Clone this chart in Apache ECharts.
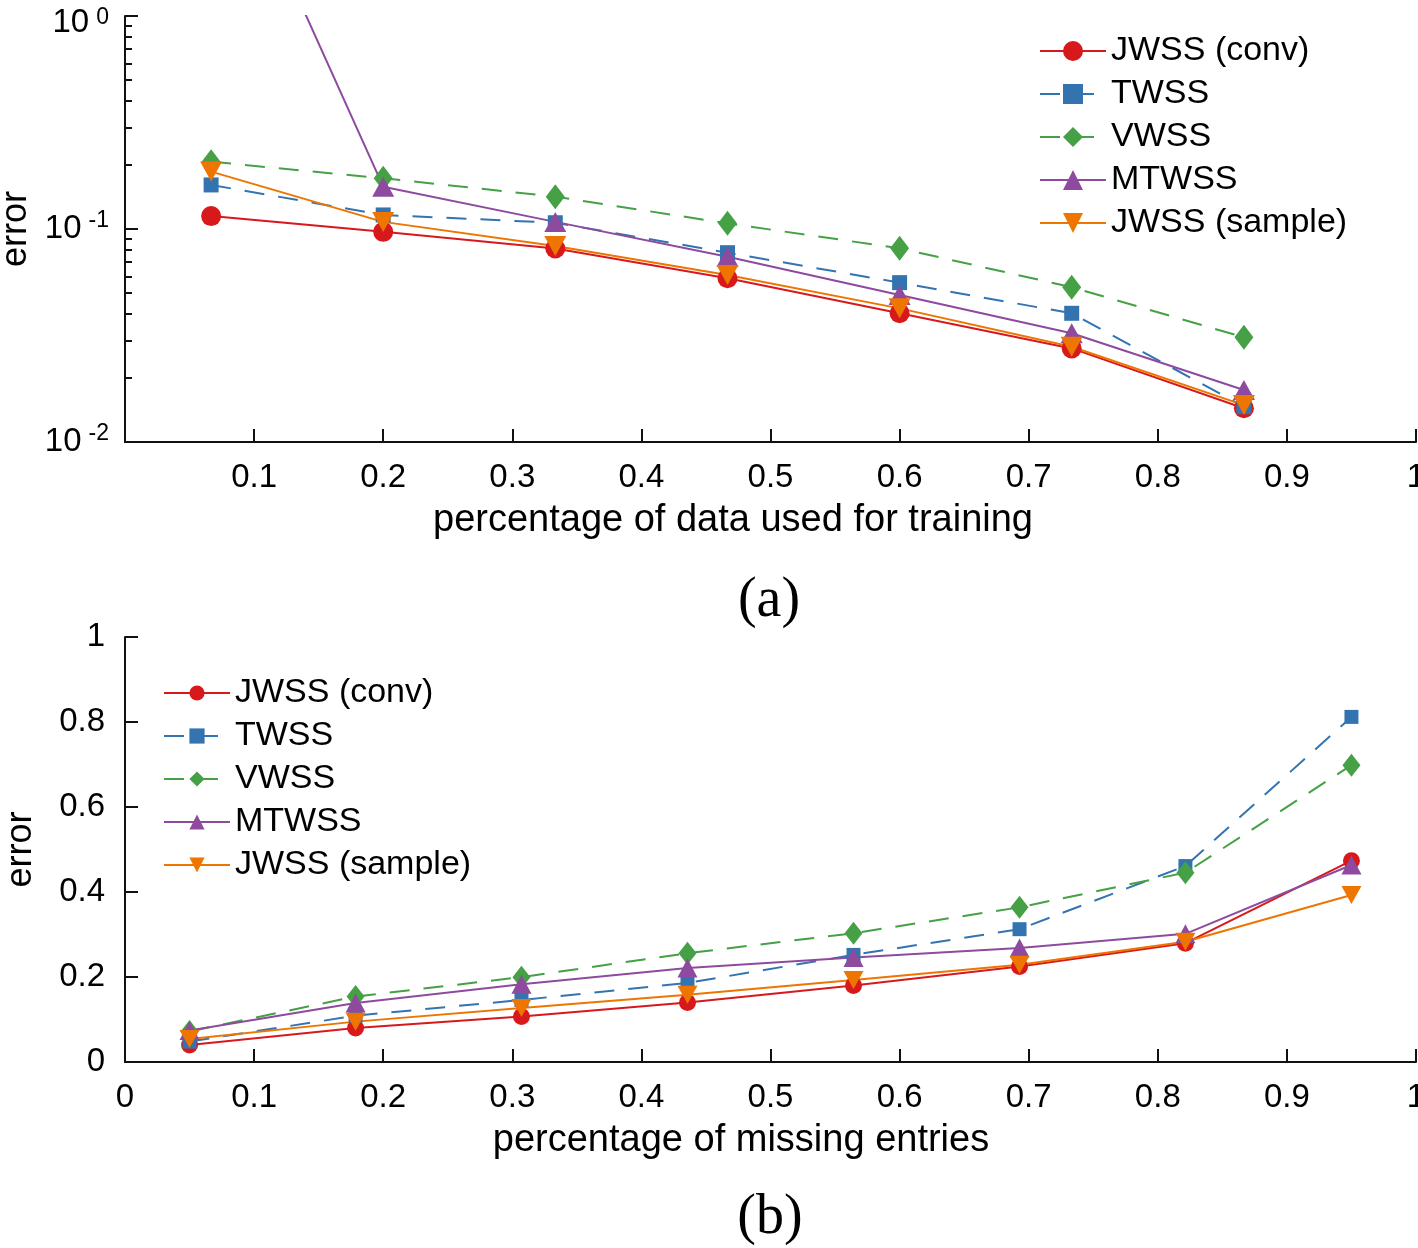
<!DOCTYPE html>
<html>
<head>
<meta charset="utf-8">
<script src="https://cdn.jsdelivr.net/npm/echarts@6/dist/echarts.min.js"></script>
<style>
  html, body { margin: 0; padding: 0; background: #fff; }
  #main { width: 1418px; height: 1248px; }
</style>
</head>
<body>
<div id="main"></div>
<script>
// series names, shared by both panels
var names = ['JWSS (conv)', 'TWSS', 'VWSS', 'MTWSS', 'JWSS (sample)'];

// (a) error vs. fraction of data used for training (log y)
var xTrain = [0.0667, 0.2, 0.3333, 0.4667, 0.6, 0.7333, 0.8667];
var trainConv   = [0.115, 0.097, 0.081, 0.0587, 0.0402, 0.0275, 0.0144];
var trainTwss   = [0.161, 0.1164, 0.107, 0.0774, 0.056, 0.0402, 0.01465];
var trainVwss   = [0.207, 0.173, 0.1418, 0.1063, 0.0812, 0.0533, 0.031];
var trainMtwss  = [9.8, 0.158, 0.108, 0.0741, 0.049, 0.0324, 0.01754];
var trainSample = [0.186, 0.108, 0.0832, 0.0608, 0.0424, 0.028, 0.0149];

// (b) error vs. fraction of missing entries
var xMissing = [0.05, 0.1786, 0.3071, 0.4357, 0.5643, 0.6929, 0.8214, 0.95];
var missConv   = [0.04, 0.08, 0.107, 0.140, 0.180, 0.2246, 0.2796, 0.4737];
var missTwss   = [0.048, 0.109, 0.146, 0.186, 0.252, 0.3125, 0.461, 0.812];
var missVwss   = [0.072, 0.154, 0.1997, 0.256, 0.303, 0.364, 0.4455, 0.6985];
var missMtwss  = [0.074, 0.139, 0.183, 0.221, 0.246, 0.268, 0.3015, 0.4636];
var missSample = [0.054, 0.095, 0.127, 0.158, 0.193, 0.2286, 0.283, 0.393];

// tick values for the log axis
var logMajorTicks = [0.01, 0.1, 1];
var logMinorTicks = [0.02, 0.03, 0.04, 0.05, 0.06, 0.07, 0.08, 0.09,
                     0.2, 0.3, 0.4, 0.5, 0.6, 0.7, 0.8, 0.9];

var colors = ['#d7191c', '#3374b0', '#46a045', '#8e4a9e', '#ee7500'];
var dashes = ['solid', [20, 14], [20, 14], 'solid', 'solid'];
var symbols = ['circle', 'rect', 'diamond', 'triangle', 'triangle'];
var rotates = [0, 0, 0, 0, 180];
var sizesTop = [20, 15, [19, 25], [22, 20], [22, 20]];
var sizesBottom = [17, 14, [18, 23], [20, 19], [20, 18]];

var FONT = 'Liberation Sans';

function pairs(xs, ys) {
    return xs.map(function (x, i) { return [x, ys[i]]; });
}

function makeSeries(panel, xs, rows, sizes) {
    return rows.map(function (ys, i) {
        return {
            name: names[i],
            type: 'line',
            xAxisIndex: panel,
            yAxisIndex: panel === 0 ? 0 : 2,
            data: pairs(xs, ys),
            symbol: symbols[i],
            symbolSize: sizes[i],
            symbolRotate: rotates[i],
            clip: true,
            color: colors[i],
            itemStyle: {color: colors[i]},
            lineStyle: {color: colors[i], width: 2, type: dashes[i]},
            emphasis: {disabled: true}
        };
    });
}

var axisLine = {lineStyle: {color: '#111', width: 2}};
var labelStyle = {color: '#000', fontSize: 33, fontFamily: FONT, margin: 19};

function xAxis(grid, name, pad, showMin) {
    return {
        type: 'value', gridIndex: grid, min: 0, max: 1, interval: 0.1,
        axisLine: axisLine,
        axisTick: {inside: true, length: 13, lineStyle: {color: '#111', width: 2}},
        splitLine: {show: false},
        axisLabel: Object.assign({showMinLabel: showMin, showMaxLabel: true}, labelStyle),
        name: name, nameLocation: 'middle', nameGap: 60,
        nameTextStyle: {color: '#000', fontSize: 38, fontFamily: FONT, padding: [0, pad, 0, 0]}
    };
}

var yName = {color: '#000', fontSize: 36, fontFamily: FONT};

var legendCommon = {
    orient: 'vertical',
    itemWidth: 66,
    itemGap: 9,
    data: names,
    selectedMode: false,
    textStyle: {color: '#000', fontSize: 34, lineHeight: 32, fontFamily: FONT}
};

var option = {
    animation: false,
    backgroundColor: '#fff',
    textStyle: {fontFamily: FONT},
    grid: [
        {left: 125, top: 16, width: 1291, height: 426, outerBoundsMode: 'none', containLabel: false},
        {left: 125, top: 637, width: 1291, height: 425, outerBoundsMode: 'none', containLabel: false}
    ],
    xAxis: [
        xAxis(0, 'percentage of data used for training', 75, false),
        xAxis(1, 'percentage of missing entries', 59, true)
    ],
    yAxis: [
        {
            type: 'log', logBase: 10, gridIndex: 0, min: 0.01, max: 1, position: 'left',
            axisLine: axisLine,
            axisTick: {inside: true, length: 13, customValues: logMajorTicks,
                       lineStyle: {color: '#111', width: 2}},
            splitLine: {show: false},
            axisLabel: {
                margin: 16, color: '#000', fontFamily: FONT, fontSize: 33,
                customValues: logMajorTicks,
                formatter: function (v) {
                    var e = Math.round(Math.log10(v));
                    // the top label sits a little lower, as in the original
                    return e === 0 ? '{bt|10}{st|0}' : '{b|10}{s|' + e + '}';
                },
                rich: {
                    b: {fontSize: 33, lineHeight: 40, fontFamily: FONT, color: '#000'},
                    s: {fontSize: 23, lineHeight: 23, verticalAlign: 'top', padding: [0, 0, 0, 7],
                        fontFamily: FONT, color: '#000'},
                    bt: {fontSize: 33, lineHeight: 40, padding: [14, 0, 0, 0], fontFamily: FONT, color: '#000'},
                    st: {fontSize: 23, lineHeight: 23, verticalAlign: 'top', padding: [10, 0, 0, 7],
                         fontFamily: FONT, color: '#000'}
                }
            },
            name: 'error', nameLocation: 'middle', nameGap: 86, nameTextStyle: yName
        },
        {
            // minor ticks of the log axis
            type: 'log', logBase: 10, gridIndex: 0, min: 0.01, max: 1, position: 'left', offset: 0,
            axisLine: {show: false},
            axisTick: {inside: true, length: 7, customValues: logMinorTicks,
                       lineStyle: {color: '#111', width: 2}},
            axisLabel: {show: false},
            splitLine: {show: false}
        },
        {
            type: 'value', gridIndex: 1, min: 0, max: 1, interval: 0.2,
            axisLine: axisLine,
            axisTick: {inside: true, length: 13, lineStyle: {color: '#111', width: 2}},
            splitLine: {show: false},
            axisLabel: Object.assign({}, labelStyle, {margin: 20}),
            name: 'error', nameLocation: 'middle', nameGap: 86, nameTextStyle: yName
        }
    ],
    legend: [
        Object.assign({left: 1034, top: 29, itemHeight: 25}, legendCommon),
        Object.assign({left: 158, top: 671, itemHeight: 19}, legendCommon)
    ],
    graphic: [
        {type: 'text', x: 769, y: 601,
         style: {text: '(a)', fontSize: 56, fontFamily: 'Liberation Serif', fill: '#000',
                 align: 'center', verticalAlign: 'middle'}},
        {type: 'text', x: 770, y: 1218,
         style: {text: '(b)', fontSize: 56, fontFamily: 'Liberation Serif', fill: '#000',
                 align: 'center', verticalAlign: 'middle'}}
    ],
    series: makeSeries(0, xTrain, [trainConv, trainTwss, trainVwss, trainMtwss, trainSample], sizesTop)
        .concat(makeSeries(1, xMissing, [missConv, missTwss, missVwss, missMtwss, missSample], sizesBottom))
};

var chart = echarts.init(document.getElementById('main'));
chart.setOption(option);
</script>
</body>
</html>
